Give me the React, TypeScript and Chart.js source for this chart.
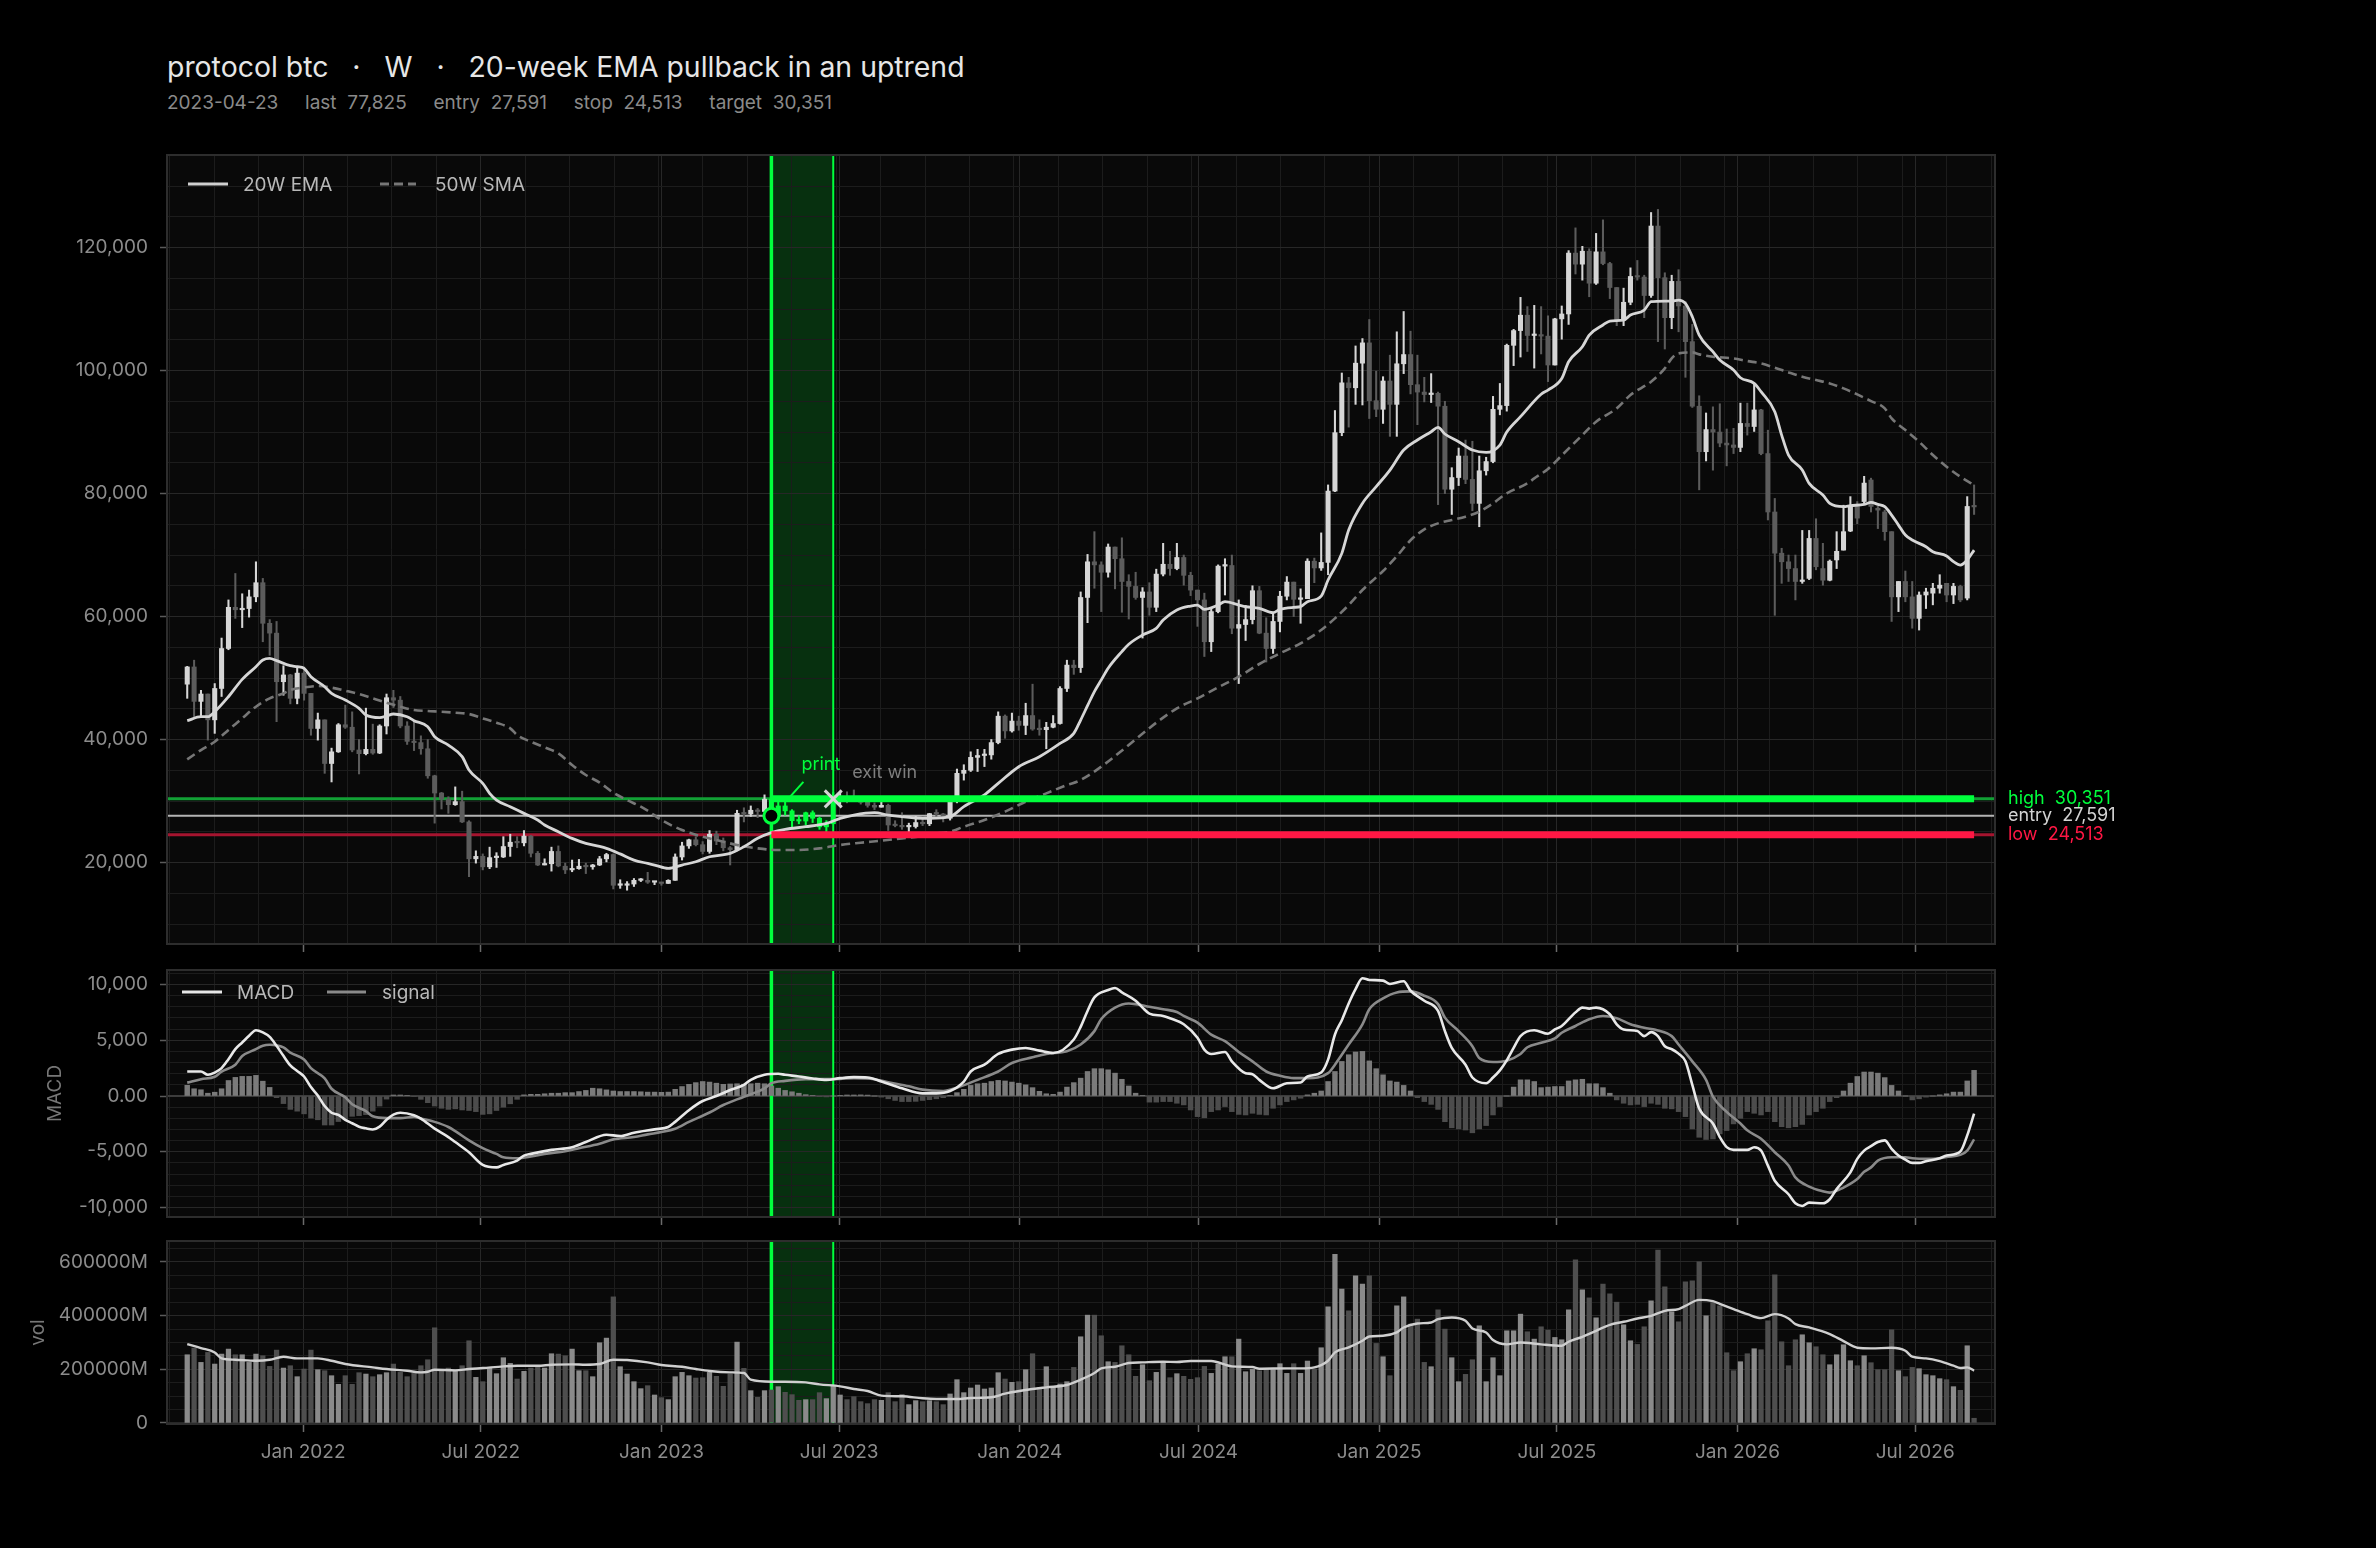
import React, { useEffect, useRef } from 'react';
import { Chart, registerables } from 'chart.js';

Chart.register(...registerables);

// ---------------- data ----------------
const FIRST_WEEK = '2021-09-05';
const ENTRY_DATE = '2023-04-23';
const EXIT_DATE = '2023-06-25';
const ENTRY = 27591;
const STOP = 24513;
const TARGET = 30351;
const LAST = 77825;

const opens = [
  49000, 51800, 46200, 47400, 43200, 48300, 54800, 61500, 61100, 61300,
  63200, 65500, 58900, 57300, 49400, 50500, 46700, 50800, 47500, 41800,
  43200, 36100, 38000, 42400, 42000, 38300, 37700, 38400, 37800, 42200,
  46800, 46400, 42200, 39700, 39500, 38500, 34100, 31300, 30300, 29400,
  29900, 26600, 20600, 21000, 19300, 20800, 20900, 22600, 23300, 23200,
  24300, 21500, 19600, 19800, 21800, 19400, 18800, 19000, 19400, 19300,
  19600, 20600, 21300, 16300, 16300, 16500, 17100, 17100, 16800, 16800,
  16600, 17100, 20900, 22700, 23700, 22900, 21800, 24600, 23500, 22400,
  22100, 28000, 27900, 28500, 28300, 30300, 27591, 29200, 28400, 26800,
  26750, 28100, 27200, 25800, 26300, 30500, 30600, 30300, 30250, 29800,
  29300, 29000, 29300, 26100, 26000, 25800, 25850, 26500, 26300, 27950,
  27900, 27200, 30000, 34500, 35000, 37100, 37400, 37500, 39500, 43800,
  41400, 43000, 42300, 43900, 41700, 41600, 42000, 42600, 48300, 52100,
  51700, 63100, 68900, 68400, 67200, 71300, 69400, 65700, 64900, 63100,
  64000, 61500, 66900, 68500, 67800, 69600, 66700, 64300, 62700, 55900,
  60800, 68200, 68300, 58100, 58700, 59500, 64200, 57300, 54800, 59200,
  63300, 65600, 62800, 62900, 69000, 67900, 68800, 80400, 89900, 98000,
  97200, 101200, 104500, 95100, 93700, 98300, 94500, 101100, 102600, 97700,
  96500, 96100, 96300, 94200, 80700, 82600, 86100, 82300, 78400, 83700,
  85200, 93700, 94300, 104100, 106500, 109000, 105700, 105800, 105600, 100900,
  108400, 109200, 119100, 117300, 119400, 114200, 119300, 117400, 113500, 108200,
  111100, 115300, 115200, 112200, 123500, 115100, 108600, 114500, 110500, 104700,
  94200, 86800, 90400, 90000, 88200, 87900, 87500, 91400, 90900, 93600,
  86500, 77000, 70300, 68900, 67800, 65700, 66200, 72700, 67800, 65900,
  69200, 70800, 73900, 77900, 78700, 82200, 77600, 77000, 73800, 63200,
  65700, 63200, 59700, 63500, 63800, 64600, 65400, 63500, 64900, 63000,
  77900,
];

const highs = [
  51900, 52900, 48000, 47400, 49100, 56500, 62700, 67000, 63700, 64300,
  68900, 66200, 59500, 59200, 52000, 50600, 51600, 51800, 47500, 44300,
  43200, 38600, 42600, 45600, 44500, 40000, 45100, 42500, 42400, 47400,
  48000, 47000, 42900, 43000, 40600, 40000, 34200, 31400, 30700, 32300,
  31600, 26800, 21900, 21400, 22500, 21600, 24200, 24600, 24200, 25200,
  24400, 21800, 20600, 22500, 22700, 19900, 20400, 20500, 19900, 19700,
  21000, 21500, 21400, 17200, 16900, 17400, 17400, 18400, 16900, 16800,
  17200, 21400, 23300, 23800, 24200, 23400, 25200, 25100, 24000, 22600,
  28500, 28900, 29200, 28800, 31000, 30400, 30000, 29800, 28600, 27600,
  28200, 28400, 27400, 26800, 31400, 31300, 31500, 31800, 30400, 30000,
  29700, 30200, 29500, 26800, 28100, 26400, 27500, 27400, 28000, 28600,
  28000, 30200, 35200, 35900, 38000, 38400, 38400, 40000, 44500, 44000,
  44300, 43800, 45900, 49000, 43200, 42800, 43900, 48600, 52900, 52900,
  64000, 70100, 73800, 68900, 71800, 71300, 72800, 66800, 67200, 64700,
  65500, 67700, 71900, 70600, 71900, 70000, 67200, 64300, 63800, 61400,
  68400, 69400, 70000, 62700, 61800, 65000, 64900, 59800, 60600, 64100,
  66500, 65600, 64500, 69400, 69500, 73600, 81400, 93500, 99600, 98900,
  104000, 105200, 108300, 99900, 99000, 102500, 106300, 109600, 106400, 102500,
  98900, 99500, 96500, 95000, 84200, 87400, 88700, 88500, 86100, 85900,
  95800, 97900, 104300, 106700, 111900, 110400, 110600, 110400, 108900, 108500,
  110500, 119500, 123200, 120200, 119800, 122300, 124500, 117600, 113500, 113400,
  116700, 117900, 115500, 125700, 126200, 115900, 115500, 116400, 111200, 107500,
  95900, 93100, 94100, 94600, 90500, 90600, 94700, 94700, 97900, 93700,
  90300, 79200, 71100, 70000, 70000, 74000, 74000, 75900, 71900, 69200,
  73800, 78100, 79500, 78700, 82800, 82500, 77900, 77300, 73800, 65700,
  67400, 65700, 64000, 64600, 65400, 66800, 65400, 65400, 65100, 79500,
  81400,
];

const lows = [
  46700, 43700, 43700, 39900, 41000, 47000, 54600, 59700, 58200, 59900,
  62400, 55900, 53700, 42900, 47200, 45800, 45800, 46400, 40700, 39900,
  34500, 33100, 37900, 41800, 38000, 34400, 37500, 37600, 37700, 40900,
  45200, 41900, 39200, 38200, 37600, 33700, 26400, 28700, 28000, 29300,
  26500, 17700, 19900, 18800, 19000, 19200, 20800, 21000, 22400, 22700,
  20900, 19500, 19600, 18600, 19300, 18200, 18500, 18900, 18200, 18900,
  19500, 20100, 15700, 15800, 15500, 16100, 16900, 16600, 16400, 16300,
  16600, 17100, 20400, 22300, 22700, 21400, 21500, 22900, 21900, 19600,
  21900, 26600, 27500, 27300, 28300, 27100, 26900, 27700, 25800, 26300,
  26100, 26500, 25400, 24800, 26300, 29500, 29700, 29900, 29500, 29000,
  28600, 29000, 25200, 25800, 25400, 24900, 25600, 26000, 26000, 27200,
  26600, 26900, 29700, 33400, 34800, 34800, 35600, 36800, 39300, 40200,
  41200, 41500, 40800, 41500, 40700, 38500, 41900, 42500, 47800, 50600,
  50900, 59000, 64600, 60800, 66400, 64500, 60700, 59600, 62800, 56500,
  60200, 60800, 66600, 66700, 67600, 65100, 63400, 58400, 53500, 54300,
  60600, 63500, 57200, 49100, 56100, 58800, 57200, 52600, 54000, 57500,
  62700, 60000, 58900, 62900, 65500, 67500, 66800, 80300, 89400, 90800,
  94500, 94400, 92200, 92500, 91400, 89300, 89300, 99500, 96200, 91200,
  94900, 94800, 78200, 80000, 76600, 81300, 81600, 77200, 74600, 83000,
  85000, 92800, 93400, 100800, 102200, 103100, 100400, 102700, 98200, 100900,
  105100, 107500, 115700, 114700, 112000, 114000, 117200, 111700, 107300, 107300,
  110700, 114700, 108600, 111900, 104700, 103500, 106800, 106300, 98900, 94000,
  80600, 85300, 83800, 87600, 84500, 86500, 86800, 89500, 90100, 86300,
  75700, 60200, 65400, 65700, 62700, 65400, 66000, 67600, 65100, 65800,
  67800, 70800, 73800, 75100, 78400, 77000, 74300, 72400, 59200, 60800,
  62400, 58100, 57800, 61300, 61900, 63800, 62400, 62100, 62400, 62700,
  76600,
];

const closes = [
  51800, 46200, 47400, 43200, 48300, 54800, 61500, 61100, 61300, 63200,
  65500, 58900, 57300, 49400, 50500, 46700, 50800, 47500, 41800, 43200,
  36100, 38000, 42400, 42000, 38300, 37700, 38400, 37800, 42200, 46800,
  46400, 42200, 39700, 39500, 38500, 34100, 31300, 30300, 29400, 29900,
  26600, 20600, 21000, 19300, 20800, 20900, 22600, 23300, 23200, 24300,
  21500, 19600, 19800, 21800, 19450, 18800, 19000, 19400, 19300, 19600,
  20600, 21300, 16300, 16350, 16500, 17100, 17150, 16800, 16850, 16600,
  17100, 20900, 22700, 23700, 22900, 21800, 24600, 23500, 22400, 22100,
  28000, 27900, 28500, 28300, 30300, 27591, 29200, 28400, 26800, 26750,
  28100, 27200, 25800, 26300, 30500, 30600, 30300, 30250, 29800, 29300,
  29000, 29300, 26100, 26000, 25800, 25850, 26500, 26300, 27950, 27900,
  27200, 30000, 34500, 35000, 37100, 37400, 37500, 39500, 43800, 41400,
  43000, 42300, 43900, 41700, 41600, 42000, 42600, 48300, 52100, 51700,
  63100, 68900, 68400, 67200, 71300, 69400, 65700, 64900, 63100, 64000,
  61500, 66900, 68500, 67800, 69600, 66700, 64300, 62700, 55900, 60800,
  68200, 68300, 58100, 58700, 59500, 64200, 57300, 54800, 59200, 63300,
  65600, 62800, 62900, 69000, 67900, 68800, 80400, 89900, 98000, 97200,
  101200, 104500, 95100, 93700, 98300, 94500, 101100, 102600, 97700, 96500,
  96100, 96300, 94200, 80700, 82600, 86100, 82300, 78400, 83700, 85200,
  93700, 94300, 104100, 106500, 109000, 105700, 105800, 105600, 100900, 108400,
  109200, 119100, 117300, 119400, 114200, 119300, 117400, 113500, 108200, 111100,
  115300, 115200, 112200, 123500, 115100, 108600, 114500, 110500, 104700, 94200,
  86800, 90400, 90000, 88200, 87900, 87500, 91400, 90900, 93600, 86500,
  77000, 70300, 68900, 67800, 65700, 65900, 72700, 68100, 65900, 69000,
  70600, 73800, 77900, 76000, 81700, 77900, 77300, 73800, 63200, 65700,
  63200, 59700, 63500, 64000, 64600, 65100, 63500, 64900, 62700, 77900,
  77825,
];

// weekly volume, in millions
const volumes = [
  254100, 278900, 225600, 262800, 219400, 256600, 275200, 254100, 254100, 225600,
  256600, 250400, 210700, 271500, 204500, 213200, 172300, 200800, 271500, 198400,
  194600, 176000, 143800, 176000, 143800, 187200, 182200, 172300, 179800, 187200,
  219400, 188400, 172300, 186000, 213200, 235500, 354600, 197100, 204500, 197100,
  213200, 306200, 169800, 153700, 203300, 183500, 243000, 221900, 163600, 192200,
  204500, 209500, 204500, 257900, 256600, 250400, 275200, 194600, 194600, 172300,
  298800, 316100, 469800, 209500, 182200, 153700, 127700, 138800, 104100, 94200,
  86800, 172300, 188400, 176000, 167400, 168600, 188400, 173600, 136400, 182200,
  301200, 203300, 120300, 95500, 120300, 122700, 135100, 114100, 105400, 84300,
  86800, 86800, 112800, 90500, 138800, 104100, 86800, 97900, 79300, 71900,
  86800, 84300, 112800, 79300, 106600, 68200, 83100, 79300, 83100, 79300,
  68200, 107900, 161200, 112800, 130200, 141300, 126400, 130200, 187200, 163600,
  151200, 153700, 198400, 257900, 132600, 209500, 132600, 145000, 153700, 207000,
  321100, 401700, 401700, 324800, 228100, 225600, 287600, 254100, 173600, 216900,
  157400, 188400, 225600, 168600, 183500, 173600, 162400, 168600, 210700, 184700,
  219400, 246700, 246700, 312400, 190900, 199600, 194600, 200800, 198400, 220700,
  184700, 220700, 184700, 230600, 200800, 280200, 432700, 628500, 498400, 417800,
  548000, 517000, 548000, 296300, 246700, 176000, 436400, 469800, 368200, 386800,
  225600, 209500, 421500, 349600, 243000, 153700, 181000, 235500, 362000, 153700,
  243000, 176000, 343400, 343400, 405400, 339700, 312400, 358300, 345900, 318600,
  309900, 421500, 607500, 495900, 466100, 391700, 517000, 481000, 450000, 365700,
  306200, 292600, 358300, 455000, 644600, 507000, 414000, 376900, 525600, 529400,
  600000, 399200, 448800, 436400, 261600, 194600, 228100, 257900, 276500, 272700,
  380600, 551700, 302500, 213200, 309900, 328500, 298800, 283900, 254100, 216900,
  254100, 291300, 231800, 213200, 250400, 224400, 198400, 198400, 347100, 194600,
  172300, 207000, 202100, 179800, 176000, 164900, 161200, 135100, 121500, 287600,
  17400,
];

const macdHist = [
  960, 650, 560, 250, 340, 650, 1390, 1670, 1760, 1760,
  1850, 1330, 770, -150, -680, -1200, -1360, -1600, -1980, -2130,
  -2600, -2600, -2290, -2130, -1820, -1760, -1670, -1360, -900, -280,
  90, 90, 50, -50, -300, -600, -900, -1100, -1200, -1150,
  -1250, -1300, -1400, -1650, -1600, -1300, -1000, -700, -300, 100,
  150, 150, 200, 250, 250, 300, 300, 400, 500, 700,
  650, 550, 450, 400, 400, 400, 380, 350, 350, 330,
  350, 600, 850, 1050, 1200, 1300, 1250, 1150, 1050, 1080,
  1100, 1060, 1100, 1150, 1100, 900, 700, 500, 380, 250,
  120, 50, -50, -80, 0, 60, 90, 90, 100, 80,
  0, -100, -250, -400, -500, -500, -480, -400, -330, -250,
  -150, 50, 300, 600, 950, 1100, 1150, 1300, 1400, 1350,
  1250, 1150, 1000, 750, 420, 200, 150, 350, 800, 1200,
  1600, 2200, 2450, 2450, 2350, 2050, 1500, 900, 250, 50,
  -550, -550, -500, -500, -650, -800, -1250, -1850, -1950, -1400,
  -1250, -950, -1400, -1650, -1700, -1550, -1650, -1700, -1100, -800,
  -500, -350, -200, 100, 250, 450, 1300, 2200, 3100, 3700,
  3950, 4000, 3150, 2450, 1900, 1350, 1250, 950, 450, -150,
  -500, -750, -1200, -2300, -2850, -2950, -3050, -3300, -2950, -2650,
  -1700, -950, 0, 800, 1450, 1450, 1300, 750, 800, 850,
  850, 1350, 1450, 1500, 1100, 1100, 750, 250, -350, -650,
  -800, -750, -950, -650, -750, -1100, -1150, -1400, -1850, -2950,
  -3700, -3900, -3850, -3400, -3100, -2500, -2000, -1400, -1550, -1700,
  -1400, -2300, -2750, -2850, -2750, -2550, -1700, -1400, -1100, -500,
  -150, 450, 1150, 1750, 2150, 2150, 2050, 1650, 950, 450,
  0, -350, -250, -100, 0, 100, 200, 350, 350, 1350,
  2300,
];

// [week index, value] readings of the indicator lines
const ema20Pts: [number, number][] = [
  [0, 43060], [2, 43710], [3, 43710], [4, 44520], [6, 46960], [8, 49780], [10, 51840], [11, 52930], [12, 53200], [13, 52820],
  [15, 52000], [16, 51840], [17, 51570], [18, 50220], [20, 48590], [21, 47510], [23, 46420], [25, 45070], [26, 43980], [28, 43550],
  [29, 43820], [30, 44150], [32, 43710], [33, 43060], [35, 42090], [36, 40460], [38, 39100], [40, 37210], [41, 35040], [43, 32870],
  [44, 31250], [45, 30160], [47, 29080], [49, 27990], [51, 26910], [52, 26100], [54, 25010], [56, 23930], [58, 23120], [60, 22620],
  [61, 22300], [63, 21400], [65, 20400], [67, 19850], [68, 19590], [70, 19050], [72, 19590], [74, 20130], [76, 20940], [79, 21490],
  [81, 22570], [83, 23930], [85, 24850], [87, 25390], [90, 25820], [93, 26370], [95, 27180], [97, 27720], [100, 28100], [102, 27720],
  [104, 27450], [107, 27180], [108, 27180], [111, 27450], [113, 29080], [116, 31010], [118, 32870], [121, 35580], [124, 37200], [127, 39370],
  [129, 41000], [130, 43170], [131, 45500], [132, 47800], [133, 49700], [134, 51600], [136, 54300], [137, 55500], [139, 56990], [141, 58080],
  [142, 59430], [144, 61060], [146, 61710], [147, 61870], [148, 61170], [150, 61870], [151, 62410], [153, 61870], [154, 61600], [156, 61330],
  [158, 60630], [159, 61170], [161, 61490], [162, 61600], [163, 62410], [165, 63330], [166, 65940], [168, 70270], [169, 74070], [171, 78400],
  [173, 81110], [175, 83820], [177, 87070], [179, 88700], [181, 90050], [182, 90760], [183, 89680], [185, 88430], [187, 87070], [189, 86690],
  [191, 87890], [192, 90000], [194, 92500], [197, 96150], [198, 96830], [200, 98700], [201, 101435], [203, 103870], [204, 105770], [206, 107400],
  [207, 108050], [209, 108210], [210, 109020], [212, 109840], [213, 111190], [215, 111300], [216, 111300], [217, 111460], [218, 110920], [219, 108750],
  [220, 105770], [222, 103060], [223, 101700], [225, 100080], [226, 98830], [228, 97910], [229, 96560], [231, 93310], [232, 89510], [233, 86260],
  [235, 83820], [236, 81650], [238, 79760], [239, 78400], [241, 77860], [242, 78020], [244, 78240], [245, 78560], [246, 78240], [247, 77860],
  [248, 76500], [249, 74870], [250, 73250], [251, 72440], [253, 71350], [254, 70540], [256, 69840], [257, 68920], [258, 68370], [259, 69200],
  [260, 70800],
];

const sma50Pts: [number, number][] = [
  [0, 36770], [2, 38290], [4, 39650], [6, 41550], [8, 43440], [10, 45340], [12, 46690], [14, 47510], [15, 48050], [17, 48480],
  [19, 48700], [21, 48430], [23, 47940], [25, 47400], [27, 46690], [29, 45990], [31, 45340], [33, 44800], [35, 44630], [37, 44520],
  [39, 44360], [41, 44150], [43, 43440], [45, 42740], [47, 41820], [48, 40730], [50, 39650], [52, 38730], [54, 37750], [56, 35860],
  [58, 34230], [60, 33000], [62, 31350], [64, 30160], [66, 29080], [67, 28430], [69, 26910], [72, 25280], [75, 24200], [78, 23390],
  [80, 22850], [83, 22300], [86, 22030], [89, 22030], [92, 22300], [95, 22850], [98, 23220], [101, 23550], [104, 23930], [107, 24310],
  [108, 24600], [111, 25010], [113, 25820], [116, 26910], [119, 28270], [122, 29890], [125, 31250], [128, 32600], [130, 33410], [144, 45070],
  [147, 46690], [150, 48480], [153, 50220], [156, 52280], [159, 54010], [162, 55640], [165, 57800], [167, 59700], [169, 61870], [171, 64310],
  [173, 66370], [174, 67400], [176, 69800], [178, 72400], [180, 74170], [182, 75150], [184, 75690], [186, 76230], [188, 77050], [190, 78400],
  [192, 80030], [195, 81650], [196, 82465], [198, 84000], [200, 86200], [203, 89510], [205, 91680], [208, 93850], [210, 96020], [213, 98190],
  [215, 100350], [216, 101980], [217, 102790], [219, 102950], [220, 102630], [222, 102250], [225, 101970], [227, 101540], [229, 101160], [231, 100460],
  [233, 99700], [235, 98995], [237, 98450], [239, 97910], [241, 97100], [243, 96120], [245, 95040], [247, 93850], [248, 92220], [250, 90330],
  [252, 88430], [254, 86260], [256, 84360], [258, 82740], [260, 81380],
];

const macdPts: [number, number][] = [
  [0, 2200], [2, 2200], [3, 1900], [4, 2100], [5, 2500], [6, 3300], [7, 4200], [8, 4800], [9, 5400], [10, 5900],
  [11, 5700], [12, 5300], [13, 4500], [14, 3600], [15, 2750], [16, 2250], [17, 1750], [18, 800], [19, 50], [20, -900],
  [21, -1500], [22, -1700], [23, -2130], [24, -2440], [25, -2750], [26, -2900], [27, -3000], [28, -2750], [29, -2130], [30, -1670],
  [31, -1500], [33, -1720], [34, -2020], [36, -2930], [38, -3680], [39, -4130], [41, -5040], [43, -6180], [45, -6400], [46, -6180],
  [48, -5790], [49, -5340], [50, -5190], [53, -4830], [56, -4590], [58, -4130], [61, -3470], [63, -3590], [65, -3290], [68, -2990],
  [70, -2780], [71, -2320], [73, -1270], [75, -450], [77, 0], [79, 540], [81, 1000], [82, 1450], [84, 1900], [86, 1990],
  [87, 1900], [89, 1750], [91, 1570], [93, 1450], [95, 1600], [97, 1690], [99, 1660], [101, 1300], [104, 690], [107, 240],
  [109, 240], [111, 450], [113, 1300], [114, 2200], [116, 2810], [118, 3770], [120, 4160], [122, 4310], [124, 4070], [126, 3860],
  [129, 5070], [130, 6200], [131, 7630], [132, 8840], [134, 9500], [135, 9680], [136, 9290], [138, 8540], [139, 7930], [140, 7390],
  [142, 7180], [143, 6970], [145, 6430], [147, 5220], [148, 4160], [149, 3770], [151, 3950], [152, 3110], [154, 2050], [155, 1960],
  [156, 1450], [158, 690], [160, 1150], [162, 1210], [163, 1750], [165, 2110], [166, 3260], [167, 5520], [168, 6800], [169, 8300],
  [170, 9590], [171, 10560], [172, 10410], [174, 10350], [175, 10050], [177, 10290], [178, 9440], [180, 8540], [182, 7630], [183, 5820],
  [184, 4310], [186, 2810], [187, 1660], [189, 1150], [190, 1660], [191, 2300], [192, 3200], [193, 4310], [194, 5370], [196, 5900],
  [198, 5580], [199, 5970], [200, 6280], [202, 7500], [203, 7930], [204, 7840], [205, 7930], [207, 7330], [208, 6430], [209, 5970],
  [211, 5820], [212, 5370], [213, 5730], [214, 5370], [215, 4460], [216, 4200], [217, 3800], [218, 3110], [219, 990], [220, -1120],
  [222, -2470], [223, -3680], [224, -4580], [225, -4830], [227, -4830], [228, -4590], [229, -4890], [230, -6240], [231, -7600], [233, -8810],
  [234, -9620], [235, -9860], [236, -9560], [238, -9620], [239, -9260], [240, -8350], [242, -6850], [243, -5640], [244, -4900], [245, -4500],
  [246, -4130], [247, -3980], [248, -4740], [249, -5340], [250, -5700], [251, -6000], [252, -6000], [253, -5850], [255, -5580], [256, -5340],
  [258, -4980], [259, -3530], [260, -1570],
];

const signalPts: [number, number][] = [
  [0, 1200], [2, 1510], [4, 1730], [5, 2190], [7, 2810], [8, 3580], [10, 4200], [11, 4510], [12, 4600], [14, 4360],
  [15, 3890], [17, 3280], [18, 2500], [20, 1580], [21, 650], [23, -120], [24, -740], [26, -1360], [27, -1820], [29, -1980],
  [31, -1980], [33, -1870], [34, -2020], [36, -2320], [38, -2780], [39, -3150], [41, -3980], [43, -4680], [45, -5190], [46, -5490],
  [48, -5580], [50, -5430], [52, -5190], [55, -4950], [57, -4680], [60, -4280], [62, -3890], [65, -3680], [67, -3440], [69, -3230],
  [71, -2930], [73, -2320], [76, -1480], [78, -810], [81, -60], [84, 690], [85, 1150], [87, 1360], [90, 1510], [92, 1510],
  [95, 1540], [97, 1600], [100, 1510], [102, 1240], [105, 870], [107, 570], [110, 450], [112, 750], [115, 1450], [118, 2200],
  [120, 2960], [123, 3470], [125, 3770], [128, 4010], [130, 4620], [132, 5820], [133, 6900], [135, 7930], [137, 8300], [138, 8240],
  [140, 8000], [142, 7780], [144, 7540], [145, 7180], [147, 6580], [149, 5500], [151, 4920], [153, 3950], [155, 3110], [157, 2200],
  [159, 1810], [161, 1600], [163, 1600], [166, 2050], [167, 2810], [169, 4620], [171, 6430], [172, 7780], [174, 8750], [176, 9290],
  [178, 9380], [180, 8990], [182, 8240], [183, 7030], [185, 5820], [187, 4470], [188, 3410], [190, 3050], [192, 3170], [194, 3770],
  [195, 4370], [197, 4770], [199, 5160], [200, 5670], [202, 6280], [204, 6880], [206, 7180], [208, 6970], [210, 6430], [212, 6120],
  [214, 5880], [216, 5370], [217, 4620], [219, 3110], [221, 1450], [222, -60], [224, -1420], [226, -2470], [227, -3080], [229, -3830],
  [231, -5040], [233, -6240], [234, -7300], [236, -8120], [238, -8540], [239, -8660], [241, -8210], [243, -7450], [244, -6800], [245, -6400],
  [246, -5790], [248, -5490], [250, -5490], [251, -5580], [253, -5640], [255, -5580], [256, -5460], [258, -5280], [259, -4890], [260, -3890],
];

const volMaPts: [number, number][] = [
  [0, 293800], [2, 278900], [4, 262800], [5, 240500], [7, 235500], [10, 231800], [12, 235500], [14, 246700], [16, 240500], [19, 240500],
  [21, 231800], [23, 219400], [27, 207000], [29, 200800], [32, 194600], [34, 188400], [35, 190900], [36, 198400], [39, 195900], [41, 200800],
  [43, 204500], [46, 210700], [48, 213200], [51, 213200], [53, 216900], [56, 218200], [58, 216900], [60, 219400], [62, 235500], [64, 234300],
  [67, 225600], [69, 215700], [72, 209500], [74, 200800], [76, 193400], [79, 188400], [81, 186000], [82, 161200], [85, 153700], [87, 153700],
  [90, 151200], [92, 143800], [95, 136400], [97, 126400], [99, 119000], [101, 101700], [104, 99200], [107, 91700], [109, 89300], [112, 89300],
  [114, 93000], [117, 95500], [119, 109100], [123, 126400], [125, 132600], [128, 141300], [130, 161200], [132, 186000], [133, 203300], [135, 209500],
  [137, 223100], [139, 225600], [142, 228100], [144, 226900], [146, 230600], [149, 230600], [152, 210700], [155, 208300], [156, 202100], [160, 203300],
  [162, 203300], [164, 207000], [166, 231800], [167, 262800], [169, 281400], [171, 306200], [172, 322300], [174, 324800], [176, 337200], [177, 355800],
  [179, 370700], [181, 374400], [182, 386800], [184, 393000], [186, 380600], [187, 352100], [189, 337200], [190, 308700], [192, 292600], [194, 300000],
  [197, 292600], [200, 287600], [201, 302500], [203, 321100], [205, 343400], [207, 365700], [209, 376900], [211, 389300], [213, 399200], [215, 417800],
  [217, 424400], [218, 436400], [220, 458700], [222, 453700], [223, 443800], [225, 424400], [227, 405400], [229, 390500], [231, 405400], [233, 389300],
  [234, 368200], [236, 355800], [239, 331000], [241, 305000], [243, 280200], [245, 277700], [248, 280200], [250, 269000], [251, 246700], [253, 240500],
  [255, 230600], [257, 213200], [258, 204500], [259, 207000], [260, 194600],
];

const xTickDates = [
  '2022-01-01', '2022-07-01', '2023-01-01', '2023-07-01', '2024-01-01',
  '2024-07-01', '2025-01-01', '2025-07-01', '2026-01-01', '2026-07-01',
];
const xTickLabels = [
  'Jan 2022', 'Jul 2022', 'Jan 2023', 'Jul 2023', 'Jan 2024',
  'Jul 2024', 'Jan 2025', 'Jul 2025', 'Jan 2026', 'Jul 2026',
];
const priceLabelTicks = [20000, 40000, 60000, 80000, 100000, 120000];
const macdLabelTicks = [-10000, -5000, 0, 5000, 10000];
const volLabelTicks = [0, 200000, 400000, 600000];

// ---------------- style / layout ----------------
const FONT = 'Inter, "Liberation Sans", Arial, sans-serif';
const W = 2376;
const PLOT_L = 167;
const PLOT_R = 1995;
const GREEN = '#00ff3c';
const RED = '#ff1744';
const UP = '#d6d6d6';
const DOWN = '#5c5c5c';
const GRID_MAJOR = '#272727';
const GRID_MINOR = '#1c1c1c';
const TICK_COLOR = '#8c8c8c';
const PLOT_BG = '#090909';

// ---------------- helpers ----------------
const DAY = 86400000;
const WEEK = 7 * DAY;
const dateMs = (s: string) => Date.parse(s + 'T00:00:00Z');
const T0 = dateMs(FIRST_WEEK);
const wx = (i: number) => T0 + i * WEEK;
const N = closes.length;
const weeks = closes.map((_, i) => i);
const ENTRY_X = dateMs(ENTRY_DATE);
const EXIT_X = dateMs(EXIT_DATE);
const ENTRY_I = Math.round((ENTRY_X - T0) / WEEK);
const EXIT_I = Math.round((EXIT_X - T0) / WEEK);
const X_MIN = wx(0) - 20.6 * DAY;
const X_MAX = wx(N - 1) + 21.3 * DAY;
const fmt = (v: number) => v.toLocaleString('en-US');
const toXY = (pts: [number, number][]) => pts.map(([w, v]) => ({ x: wx(w), y: v }));

const majorX = xTickDates.map(dateMs);
const labelByX = new Map<number, string>(majorX.map((v, k) => [v, xTickLabels[k]]));
const minorStep = (majorX[1] - majorX[0]) / 4;
const X_TICKS: { value: number; major: boolean }[] = [];
for (let k = -8; k < 60; k++) {
  const v = majorX[0] + k * minorStep;
  if (v <= X_MIN || v >= X_MAX) continue;
  if (majorX.some((m) => Math.abs(m - v) < 2 * DAY)) continue;
  X_TICKS.push({ value: v, major: false });
}
majorX.forEach((v) => X_TICKS.push({ value: v, major: true }));
X_TICKS.sort((a, b) => a.value - b.value);

const range = (a: number, b: number, step: number) => {
  const out: number[] = [];
  for (let v = a; v <= b; v += step) out.push(v);
  return out;
};

const candleColor = (i: number) =>
  i >= ENTRY_I && i <= EXIT_I ? GREEN : closes[i] >= opens[i] ? UP : DOWN;

function xAxis(height: number, showLabels: boolean) {
  return {
    type: 'linear',
    min: X_MIN,
    max: X_MAX,
    offset: false,
    afterBuildTicks: (s: any) => {
      s.ticks = X_TICKS.map((t) => ({ value: t.value, major: t.major }));
    },
    afterFit: (s: any) => {
      s.height = height;
      s.paddingLeft = 0;
      s.paddingRight = 0;
      s.paddingTop = 0;
      s.paddingBottom = 0;
    },
    grid: {
      offset: false,
      color: (c: any) => (c.tick && c.tick.major ? GRID_MAJOR : GRID_MINOR),
      lineWidth: 1,
      drawTicks: true,
      tickLength: 8,
      tickWidth: 1.5,
      tickColor: (c: any) => (c.tick && c.tick.major ? '#6a6a6a' : 'rgba(0,0,0,0)'),
    },
    border: { display: false },
    ticks: {
      autoSkip: false,
      maxRotation: 0,
      minRotation: 0,
      padding: 9,
      color: TICK_COLOR,
      font: { family: FONT, size: 19 },
      callback: (v: number) => (showLabels ? labelByX.get(v) ?? '' : ''),
    },
  };
}

function yAxis(min: number, max: number, grid: number[], labels: number[], fmtLabel: (v: number) => string) {
  const isLab = (v: number) => labels.includes(v);
  return {
    type: 'linear',
    position: 'left',
    min,
    max,
    afterBuildTicks: (s: any) => {
      s.ticks = grid.map((v) => ({ value: v }));
    },
    afterFit: (s: any) => {
      s.width = PLOT_L;
      s.paddingTop = 0;
      s.paddingBottom = 0;
      s.paddingLeft = 0;
      s.paddingRight = 0;
    },
    grid: {
      color: (c: any) => (c.tick && isLab(c.tick.value) ? GRID_MAJOR : GRID_MINOR),
      lineWidth: 1,
      drawTicks: true,
      tickLength: 7,
      tickWidth: 1.5,
      tickColor: (c: any) => (c.tick && isLab(c.tick.value) ? '#5a5a5a' : 'rgba(0,0,0,0)'),
    },
    border: { display: false },
    ticks: {
      autoSkip: false,
      padding: 12,
      color: TICK_COLOR,
      font: { family: FONT, size: 19 },
      callback: (v: number) => (isLab(v) ? fmtLabel(v) : ''),
    },
  };
}

function baseOptions(top: number) {
  return {
    responsive: false,
    maintainAspectRatio: false,
    animation: false,
    events: [],
    layout: { padding: { left: 0, right: W - PLOT_R, top, bottom: 0 } },
    plugins: { legend: { display: false }, tooltip: { enabled: false }, title: { display: false } },
  };
}

// shared drawing of panel background, trade window and frame
function drawBackground(chart: any) {
  const { ctx, chartArea: a, scales } = chart;
  ctx.save();
  ctx.fillStyle = PLOT_BG;
  ctx.fillRect(a.left, a.top, a.right - a.left, a.bottom - a.top);
  const x1 = scales.x.getPixelForValue(ENTRY_X);
  const x2 = scales.x.getPixelForValue(EXIT_X);
  ctx.fillStyle = 'rgba(0,255,50,0.16)';
  ctx.fillRect(x1, a.top, x2 - x1, a.bottom - a.top);
  ctx.restore();
}
function drawWindowLines(chart: any) {
  const { ctx, chartArea: a, scales } = chart;
  const x1 = scales.x.getPixelForValue(ENTRY_X);
  const x2 = scales.x.getPixelForValue(EXIT_X);
  ctx.save();
  ctx.strokeStyle = GREEN;
  ctx.lineWidth = 3.5;
  ctx.beginPath();
  ctx.moveTo(x1, a.top);
  ctx.lineTo(x1, a.bottom);
  ctx.stroke();
  ctx.lineWidth = 2;
  ctx.beginPath();
  ctx.moveTo(x2, a.top);
  ctx.lineTo(x2, a.bottom);
  ctx.stroke();
  ctx.restore();
}
function drawFrame(chart: any) {
  const { ctx, chartArea: a } = chart;
  ctx.save();
  ctx.strokeStyle = '#2d2d2d';
  ctx.lineWidth = 2;
  ctx.strokeRect(a.left, a.top, a.right - a.left, a.bottom - a.top);
  ctx.restore();
}
function legendItem(ctx: any, x: number, y: number, color: string, dash: number[], text: string, len: number, textGap: number) {
  ctx.save();
  ctx.strokeStyle = color;
  ctx.lineWidth = 2.8;
  ctx.setLineDash(dash);
  ctx.beginPath();
  ctx.moveTo(x, y);
  ctx.lineTo(x + len, y);
  ctx.stroke();
  ctx.setLineDash([]);
  ctx.fillStyle = '#b8b8b8';
  ctx.font = `19px ${FONT}`;
  ctx.textBaseline = 'middle';
  ctx.textAlign = 'left';
  ctx.fillText(text, x + len + textGap, y + 1);
  ctx.restore();
}
function axisTitle(chart: any, text: string, x: number) {
  const { ctx, chartArea: a } = chart;
  ctx.save();
  ctx.translate(x, (a.top + a.bottom) / 2);
  ctx.rotate(-Math.PI / 2);
  ctx.fillStyle = '#777777';
  ctx.font = `19px ${FONT}`;
  ctx.textAlign = 'center';
  ctx.textBaseline = 'middle';
  ctx.fillText(text, 0, 0);
  ctx.restore();
}

const pricePlugin = {
  id: 'priceDecor',
  beforeDraw: drawBackground,
  beforeDatasetsDraw(chart: any) {
    const { ctx, chartArea: a, scales } = chart;
    const y = scales.y;
    ctx.save();
    const hline = (v: number, color: string, w: number) => {
      ctx.strokeStyle = color;
      ctx.lineWidth = w;
      ctx.beginPath();
      ctx.moveTo(a.left, y.getPixelForValue(v));
      ctx.lineTo(a.right, y.getPixelForValue(v));
      ctx.stroke();
    };
    hline(TARGET, '#12a035', 3);
    hline(ENTRY, '#b4b4b4', 2);
    hline(STOP, '#a5142f', 3);
    ctx.restore();
    drawWindowLines(chart);
  },
  afterDraw(chart: any) {
    const { ctx, chartArea: a, scales } = chart;
    drawFrame(chart);
    const y = scales.y;
    const x = scales.x;
    ctx.save();
    ctx.font = `18px ${FONT}`;
    ctx.textBaseline = 'middle';
    ctx.textAlign = 'left';
    ctx.fillStyle = GREEN;
    ctx.fillText(`high  ${fmt(TARGET)}`, a.right + 13, y.getPixelForValue(TARGET));
    ctx.fillStyle = '#d2d2d2';
    ctx.fillText(`entry  ${fmt(ENTRY)}`, a.right + 13, y.getPixelForValue(ENTRY));
    ctx.fillStyle = RED;
    ctx.fillText(`low  ${fmt(STOP)}`, a.right + 13, y.getPixelForValue(STOP));

    // annotations
    const px = x.getPixelForValue(ENTRY_X);
    const py = y.getPixelForValue(ENTRY);
    ctx.strokeStyle = GREEN;
    ctx.lineWidth = 2;
    ctx.beginPath();
    ctx.moveTo(px + 15, py - 15);
    ctx.lineTo(px + 32, py - 34);
    ctx.stroke();
    ctx.fillStyle = GREEN;
    ctx.font = `18px ${FONT}`;
    ctx.fillText('print', px + 30, py - 51);
    const ex = x.getPixelForValue(EXIT_X);
    const ey = y.getPixelForValue(TARGET);
    ctx.fillStyle = '#7e7e7e';
    ctx.fillText('exit win', ex + 19, ey - 26);
    ctx.restore();

    legendItem(ctx, a.left + 21, a.top + 29, '#d0d0d0', [], '20W EMA', 40, 15);
    legendItem(ctx, a.left + 213, a.top + 29, '#777777', [9, 5], '50W SMA', 36, 19);
  },
};

const macdPlugin = {
  id: 'macdDecor',
  beforeDraw: drawBackground,
  beforeDatasetsDraw(chart: any) {
    const { ctx, chartArea: a, scales } = chart;
    const y0 = scales.y.getPixelForValue(0);
    ctx.save();
    ctx.strokeStyle = '#3c3c3c';
    ctx.lineWidth = 2;
    ctx.beginPath();
    ctx.moveTo(a.left, y0);
    ctx.lineTo(a.right, y0);
    ctx.stroke();
    ctx.restore();
    drawWindowLines(chart);
  },
  afterDraw(chart: any) {
    const { ctx, chartArea: a } = chart;
    drawFrame(chart);
    legendItem(ctx, a.left + 15, a.top + 22, '#e6e6e6', [], 'MACD', 40, 15);
    legendItem(ctx, a.left + 160, a.top + 22, '#8a8a8a', [], 'signal', 39, 16);
    axisTitle(chart, 'MACD', 55);
  },
};

const volPlugin = {
  id: 'volDecor',
  beforeDraw: drawBackground,
  beforeDatasetsDraw(chart: any) {
    drawWindowLines(chart);
  },
  afterDraw(chart: any) {
    drawFrame(chart);
    axisTitle(chart, 'vol', 38);
  },
};

function priceConfig(): any {
  return {
    type: 'bar',
    data: {
      datasets: [
        {
          type: 'line', label: 'exit', data: [{ x: EXIT_X, y: TARGET }], showLine: false,
          pointStyle: 'crossRot', pointRadius: 12, pointBorderWidth: 3, pointBorderColor: '#d4d4d4',
          pointBackgroundColor: 'rgba(0,0,0,0)', order: 0,
        },
        {
          type: 'line', label: 'entry', data: [{ x: ENTRY_X, y: ENTRY }], showLine: false,
          pointStyle: 'circle', pointRadius: 7.5, pointBorderWidth: 3, pointBorderColor: GREEN,
          pointBackgroundColor: '#000000', order: 1,
        },
        {
          type: 'line', label: 'target', data: [{ x: ENTRY_X, y: TARGET }, { x: wx(N - 1), y: TARGET }],
          borderColor: GREEN, borderWidth: 7, borderCapStyle: 'butt', pointRadius: 0, order: 2,
        },
        {
          type: 'line', label: 'stop', data: [{ x: ENTRY_X, y: STOP }, { x: wx(N - 1), y: STOP }],
          borderColor: RED, borderWidth: 7, borderCapStyle: 'butt', pointRadius: 0, order: 2,
        },
        {
          type: 'line', label: '20W EMA', data: toXY(ema20Pts), borderColor: '#d6d6d6', borderWidth: 2.8,
          pointRadius: 0, cubicInterpolationMode: 'monotone', order: 3,
        },
        {
          type: 'line', label: '50W SMA', data: toXY(sma50Pts), borderColor: '#777777', borderWidth: 2.6,
          borderDash: [9, 5], pointRadius: 0, cubicInterpolationMode: 'monotone', order: 4,
        },
        {
          type: 'bar', label: 'body', data: weeks.map((i) => ({ x: wx(i), y: [opens[i], closes[i]] })),
          backgroundColor: (c: any) => candleColor(c.dataIndex), barThickness: 4.4, minBarLength: 1.5,
          grouped: false, order: 5,
        },
        {
          type: 'bar', label: 'wick', data: weeks.map((i) => ({ x: wx(i), y: [lows[i], highs[i]] })),
          backgroundColor: (c: any) => candleColor(c.dataIndex), barThickness: 1.4, grouped: false, order: 6,
        },
      ],
    },
    options: {
      ...baseOptions(155),
      scales: {
        x: xAxis(16, false),
        y: yAxis(6750, 135050, range(10000, 135000, 5000), priceLabelTicks, fmt),
      },
    },
    plugins: [pricePlugin],
  };
}

function macdConfig(): any {
  return {
    type: 'bar',
    data: {
      datasets: [
        {
          type: 'line', label: 'MACD', data: toXY(macdPts), borderColor: '#e8e8e8', borderWidth: 2.6,
          pointRadius: 0, cubicInterpolationMode: 'monotone', order: 1,
        },
        {
          type: 'line', label: 'signal', data: toXY(signalPts), borderColor: '#8a8a8a', borderWidth: 2.6,
          pointRadius: 0, cubicInterpolationMode: 'monotone', order: 2,
        },
        {
          type: 'bar', label: 'hist', data: weeks.map((i) => ({ x: wx(i), y: macdHist[i] })),
          backgroundColor: (c: any) => (macdHist[c.dataIndex] >= 0 ? '#7a7a7a' : '#4c4c4c'),
          barThickness: 4.8, grouped: false, order: 3,
        },
      ],
    },
    options: {
      ...baseOptions(12),
      scales: {
        x: xAxis(15, false),
        y: yAxis(-10850, 11300, range(-10000, 11000, 1000), macdLabelTicks, (v) => (v === 0 ? '0.00' : fmt(v))),
      },
    },
    plugins: [macdPlugin],
  };
}

function volConfig(): any {
  return {
    type: 'bar',
    data: {
      datasets: [
        {
          type: 'line', label: 'vol MA', data: toXY(volMaPts), borderColor: '#cfcfcf', borderWidth: 2.4,
          pointRadius: 0, cubicInterpolationMode: 'monotone', order: 1,
        },
        {
          type: 'bar', label: 'vol', data: weeks.map((i) => ({ x: wx(i), y: volumes[i] })),
          backgroundColor: (c: any) => (closes[c.dataIndex] >= opens[c.dataIndex] ? '#8a8a8a' : '#4e4e4e'),
          barThickness: 4.6, grouped: false, order: 2,
        },
      ],
    },
    options: {
      ...baseOptions(12),
      scales: {
        x: xAxis(124, true),
        y: yAxis(-4000, 678000, range(0, 650000, 50000), volLabelTicks, (v) => (v === 0 ? '0' : `${v}M`)),
      },
    },
    plugins: [volPlugin],
  };
}

export default function App() {
  const priceRef = useRef<HTMLCanvasElement>(null);
  const macdRef = useRef<HTMLCanvasElement>(null);
  const volRef = useRef<HTMLCanvasElement>(null);

  useEffect(() => {
    document.body.style.margin = '0';
    document.body.style.background = '#000';
    const charts = [
      new Chart(priceRef.current as HTMLCanvasElement, priceConfig()),
      new Chart(macdRef.current as HTMLCanvasElement, macdConfig()),
      new Chart(volRef.current as HTMLCanvasElement, volConfig()),
    ];
    return () => charts.forEach((c) => c.destroy());
  }, []);

  const canvasStyle = (top: number, h: number): React.CSSProperties => ({
    position: 'absolute', left: 0, top, width: W, height: h, display: 'block',
  });

  return (
    <div style={{ position: 'absolute', left: 0, top: 0, width: W, height: 1548, background: '#000', overflow: 'hidden' }}>
      <div
        style={{
          position: 'absolute', left: PLOT_L, top: 51, fontFamily: FONT, fontSize: 28.4, lineHeight: '32px',
          color: '#e6e6e6', whiteSpace: 'pre',
        }}
      >
        {'protocol btc   ·   W   ·   20-week EMA pullback in an uptrend'}
      </div>
      <div
        style={{
          position: 'absolute', left: PLOT_L, top: 92, fontFamily: FONT, fontSize: 19, lineHeight: '22px',
          color: '#8a8a8a', whiteSpace: 'pre',
        }}
      >
        {`${ENTRY_DATE}     last  ${fmt(LAST)}     entry  ${fmt(ENTRY)}     stop  ${fmt(STOP)}     target  ${fmt(TARGET)}`}
      </div>
      <canvas ref={priceRef} width={W} height={960} style={canvasStyle(0, 960)} />
      <canvas ref={macdRef} width={W} height={274} style={canvasStyle(958, 274)} />
      <canvas ref={volRef} width={W} height={319} style={canvasStyle(1229, 319)} />
    </div>
  );
}
